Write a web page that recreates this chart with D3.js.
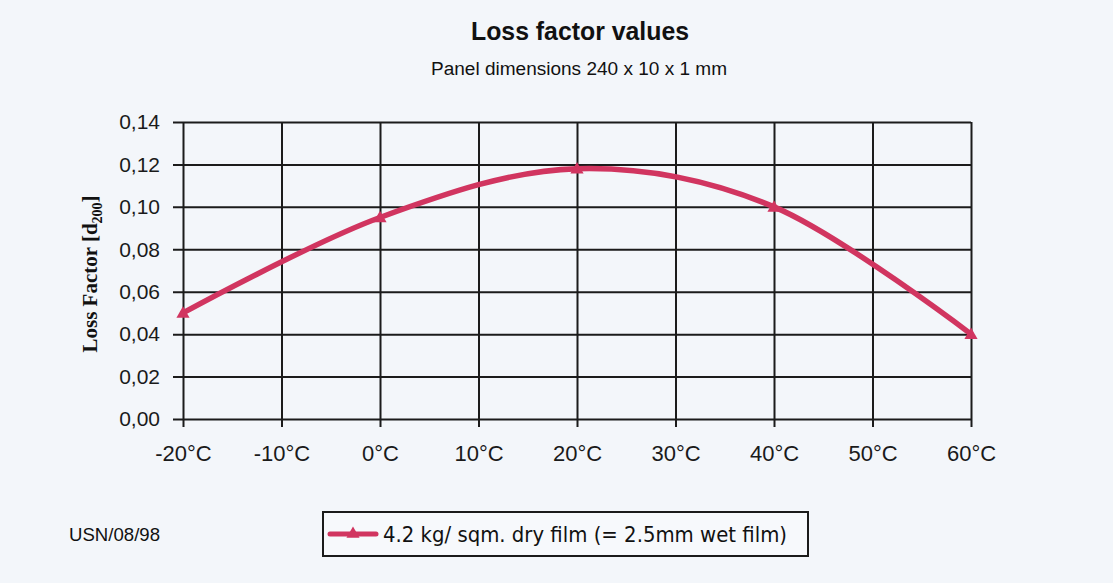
<!DOCTYPE html>
<html lang="en">
<head>
<meta charset="UTF-8">
<title>Loss factor values</title>
<script src="https://cdn.jsdelivr.net/npm/d3@7/dist/d3.min.js"></script>
<style>
  body { margin: 0; background: #f3f6fa; }
  svg { display: block; }
</style>
</head>
<body>
<div id="chart"></div>
<script>
// data
var temps = [-20, 0, 20, 40, 60];
var lossFactor = [0.050, 0.095, 0.118, 0.100, 0.040];
var xTicks = [-20, -10, 0, 10, 20, 30, 40, 50, 60];
var yTicks = [0, 0.02, 0.04, 0.06, 0.08, 0.10, 0.12, 0.14];
var seriesName = '4.2 kg/ sqm. dry film (= 2.5mm wet film)';

var width = 1113, height = 583;
var plotL = 183, plotR = 971, plotT = 122, plotB = 419;
var sans = '"Liberation Sans", Arial, sans-serif';

var svg = d3.select('#chart').append('svg')
  .attr('width', width).attr('height', height);

svg.append('rect').attr('width', width).attr('height', height).attr('fill', '#f3f6fa');

var x = d3.scaleLinear().domain([-20, 60]).range([plotL, plotR]);
var y = d3.scaleLinear().domain([0, 0.14]).range([plotB, plotT]);

// titles
svg.append('text')
  .attr('x', 580).attr('y', 40)
  .attr('text-anchor', 'middle')
  .attr('textLength', 218).attr('lengthAdjust', 'spacingAndGlyphs')
  .style('font-family', sans)
  .style('font-weight', 'bold').style('font-size', '25px').style('fill', '#111')
  .text('Loss factor values');

svg.append('text')
  .attr('x', 579).attr('y', 75)
  .attr('text-anchor', 'middle')
  .attr('textLength', 296).attr('lengthAdjust', 'spacingAndGlyphs')
  .style('font-family', sans)
  .style('font-size', '18px').style('fill', '#111')
  .text('Panel dimensions 240 x 10 x 1 mm');

// horizontal grid + y labels
var yAxis = d3.axisLeft(y)
  .tickValues(yTicks)
  .tickSize(plotR - plotL + 10)
  .tickPadding(13)
  .tickFormat(function(d){ return d3.format('.2f')(d).replace('.', ','); });

var yG = svg.append('g')
  .attr('transform', 'translate(' + plotR + ',0)')
  .call(yAxis);
yG.select('.domain').remove();
yG.selectAll('line').attr('stroke', '#1b1b1b').attr('stroke-width', 2);
yG.selectAll('text')
  .style('font-family', sans)
  .style('font-size', '21px').style('fill', '#1a1a1a');

// vertical grid + x labels
var xAxis = d3.axisBottom(x)
  .tickValues(xTicks)
  .tickSize(plotB - plotT + 8)
  .tickPadding(18)
  .tickFormat(function(d){ return d + '°C'; });

var xG = svg.append('g')
  .attr('transform', 'translate(0,' + plotT + ')')
  .call(xAxis);
xG.select('.domain').remove();
xG.selectAll('line').attr('stroke', '#1b1b1b').attr('stroke-width', 2);
xG.selectAll('text')
  .style('font-family', sans)
  .style('font-size', '22px').style('fill', '#1a1a1a');

// y axis title
var yTitle = svg.append('text')
  .attr('transform', 'translate(97,274) rotate(-90)')
  .attr('text-anchor', 'middle')
  .style('font-family', '"Liberation Serif", "Times New Roman", serif')
  .style('font-weight', 'bold').style('font-size', '21px').style('fill', '#111');
yTitle.append('tspan').text('Loss Factor [d');
yTitle.append('tspan').attr('dy', 5).style('font-size', '14px').text('200');
yTitle.append('tspan').attr('dy', -5).text(']');

// series
var red = '#d13560';
var pts = temps.map(function(t, i){ return [t, lossFactor[i]]; });

var line = d3.line()
  .x(function(d){ return x(d[0]); })
  .y(function(d){ return y(d[1]); })
  .curve(d3.curveCardinal.tension(0));

svg.append('path')
  .datum(pts)
  .attr('d', line)
  .attr('fill', 'none')
  .attr('stroke', red)
  .attr('stroke-width', 5.5)
  .attr('stroke-linecap', 'round');

var tri = d3.symbol().type(d3.symbolTriangle).size(75);
svg.selectAll('.marker')
  .data(pts)
  .enter().append('path')
  .attr('class', 'marker')
  .attr('d', tri)
  .attr('transform', function(d){ return 'translate(' + x(d[0]) + ',' + (y(d[1]) + 1) + ')'; })
  .attr('fill', red);

// footer note
svg.append('text')
  .attr('x', 69).attr('y', 541)
  .attr('textLength', 91).attr('lengthAdjust', 'spacingAndGlyphs')
  .style('font-family', sans)
  .style('font-size', '19px').style('fill', '#111')
  .text('USN/08/98');

// legend
var lg = svg.append('g');
lg.append('rect')
  .attr('x', 323).attr('y', 512).attr('width', 485).attr('height', 44)
  .attr('fill', '#f7f9fc').attr('stroke', '#1b1b1b').attr('stroke-width', 2);
lg.append('line')
  .attr('x1', 330).attr('x2', 376).attr('y1', 534).attr('y2', 534)
  .attr('stroke', red).attr('stroke-width', 5).attr('stroke-linecap', 'round');
lg.append('path')
  .attr('d', tri)
  .attr('transform', 'translate(353,534)')
  .attr('fill', red);
lg.append('text')
  .attr('x', 383).attr('y', 542)
  .attr('textLength', 404).attr('lengthAdjust', 'spacingAndGlyphs')
  .style('font-family', '"DejaVu Sans", Verdana, sans-serif')
  .style('font-size', '21px').style('fill', '#111')
  .text(seriesName);
</script>
</body>
</html>
